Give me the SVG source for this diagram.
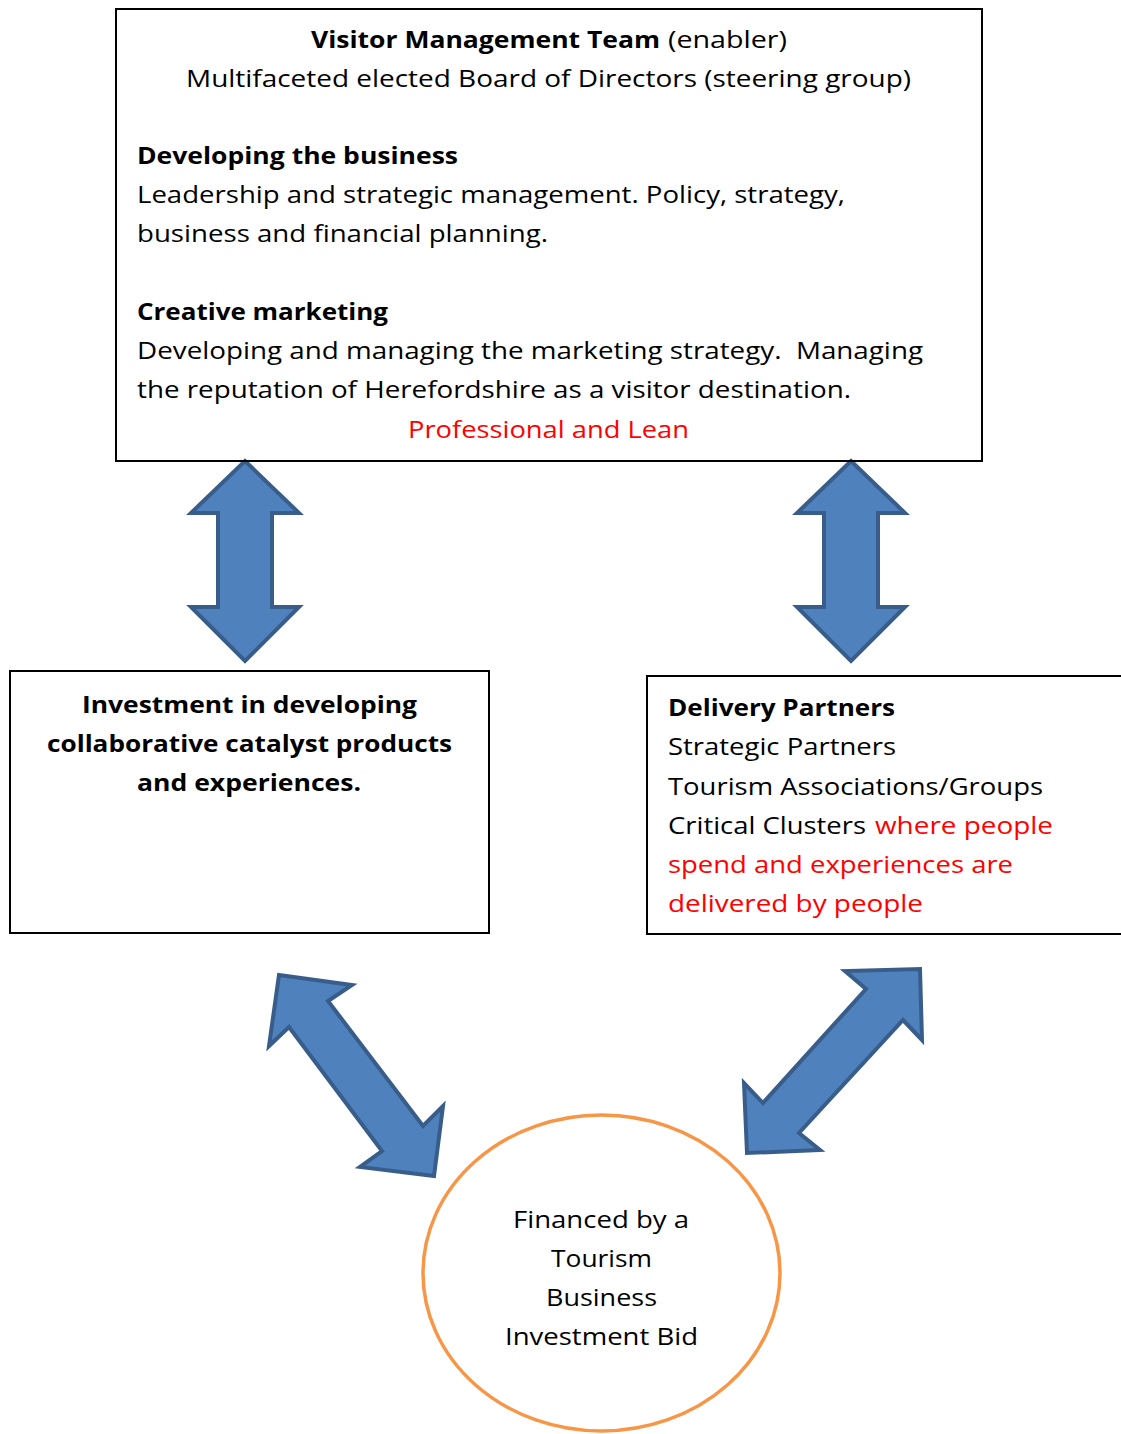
<svg xmlns="http://www.w3.org/2000/svg" width="1121" height="1434" viewBox="0 0 1121 1434">
<style>
text{font-family:"Open Sans","Noto Sans","Liberation Sans",sans-serif;font-size:24px;fill:#000}
.b{font-weight:bold}
.r{fill:#FF0000}
.box{fill:none;stroke:#000;stroke-width:2}
.arr{fill:#4F81BD;stroke:#385D8A;stroke-width:4;stroke-linejoin:miter}
</style>
<rect width="1121" height="1434" fill="#fff"/>
<g id="connectors">
<polygon class="arr" points="245,461 299,513 272,513 272,607 299,607 245,661 191,607 218,607 218,513 191,513"/>
<polygon class="arr" points="851,461 905,513 878,513 878,607 905,607 851,661 797,607 824,607 824,513 797,513"/>
<polygon class="arr" points="279,975 352,985 328,1001 423,1126 443,1106 434,1176 360,1167 382,1151 289,1027 269,1046"/>
<polygon class="arr" points="920,969 922,1040 903,1020 799,1133 820,1150 747,1153 744,1083 763,1103 866,989 845,971"/>
</g>
<g id="top-box">
<rect class="box" x="116" y="9" width="866" height="452"/>
<text class="b" x="311" y="48" textLength="349" lengthAdjust="spacingAndGlyphs">Visitor Management Team</text>
<text x="668" y="48" textLength="119" lengthAdjust="spacingAndGlyphs">(enabler)</text>
<text x="186" y="87" textLength="725" lengthAdjust="spacingAndGlyphs">Multifaceted elected Board of Directors (steering group)</text>
<text class="b" x="137" y="164" textLength="321" lengthAdjust="spacingAndGlyphs">Developing the business</text>
<text x="137" y="203" textLength="708" lengthAdjust="spacingAndGlyphs">Leadership and strategic management. Policy, strategy,</text>
<text x="137" y="242" textLength="411" lengthAdjust="spacingAndGlyphs">business and financial planning.</text>
<text class="b" x="137" y="320" textLength="251" lengthAdjust="spacingAndGlyphs">Creative marketing</text>
<text x="137" y="359" textLength="786" lengthAdjust="spacingAndGlyphs" xml:space="preserve">Developing and managing the marketing strategy.  Managing</text>
<text x="137" y="398" textLength="714" lengthAdjust="spacingAndGlyphs">the reputation of Herefordshire as a visitor destination.</text>
<text class="r" x="408" y="438" textLength="281" lengthAdjust="spacingAndGlyphs">Professional and Lean</text>
</g>
<g id="left-box">
<rect class="box" x="10" y="671" width="479" height="262"/>
<text class="b" x="82" y="713" textLength="335" lengthAdjust="spacingAndGlyphs">Investment in developing</text>
<text class="b" x="47" y="752" textLength="405" lengthAdjust="spacingAndGlyphs">collaborative catalyst products</text>
<text class="b" x="137" y="791" textLength="224" lengthAdjust="spacingAndGlyphs">and experiences.</text>
</g>
<g id="right-box">
<rect class="box" x="647" y="676" width="490" height="258"/>
<text class="b" x="668" y="716" textLength="227" lengthAdjust="spacingAndGlyphs">Delivery Partners</text>
<text x="668" y="755" textLength="228" lengthAdjust="spacingAndGlyphs">Strategic Partners</text>
<text x="668" y="795" textLength="375" lengthAdjust="spacingAndGlyphs">Tourism Associations/Groups</text>
<text x="668" y="834" textLength="198" lengthAdjust="spacingAndGlyphs">Critical Clusters</text>
<text class="r" x="875" y="834" textLength="178" lengthAdjust="spacingAndGlyphs">where people</text>
<text class="r" x="668" y="873" textLength="345" lengthAdjust="spacingAndGlyphs">spend and experiences are</text>
<text class="r" x="668" y="912" textLength="255" lengthAdjust="spacingAndGlyphs">delivered by people</text>
</g>
<g id="circle">
<ellipse cx="601.5" cy="1273" rx="178.5" ry="158" fill="none" stroke="#F79646" stroke-width="3.5"/>
<text x="513" y="1228" textLength="176" lengthAdjust="spacingAndGlyphs">Financed by a</text>
<text x="551" y="1267" textLength="101" lengthAdjust="spacingAndGlyphs">Tourism</text>
<text x="546" y="1306" textLength="111" lengthAdjust="spacingAndGlyphs">Business</text>
<text x="505" y="1345" textLength="193" lengthAdjust="spacingAndGlyphs">Investment Bid</text>
</g>
</svg>
